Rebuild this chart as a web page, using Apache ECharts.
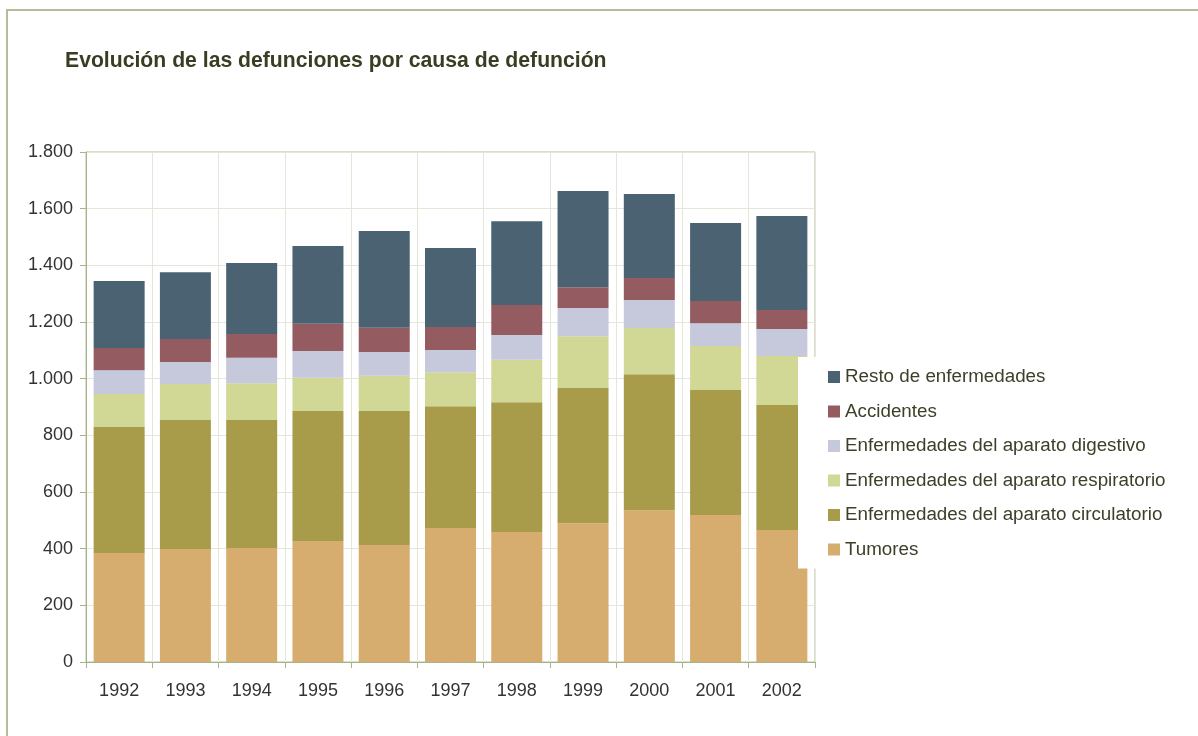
<!DOCTYPE html>
<html><head><meta charset="utf-8">
<script src="https://cdn.jsdelivr.net/npm/echarts@6/dist/echarts.min.js"></script>
<style>
html,body{margin:0;padding:0;background:#fff;}
#frame{position:absolute;left:6px;top:9px;width:1300px;height:900px;border:2px solid #b7bb9c;box-sizing:border-box;}
#c{position:absolute;left:0;top:0;width:1198px;height:736px;}
</style></head>
<body>
<div id="frame"></div>
<div id="c"></div>
<script>
const years = ['1992','1993','1994','1995','1996','1997','1998','1999','2000','2001','2002'];
const tumores      = [385, 399, 402, 427, 413, 473, 459, 490, 536, 519, 466];
const circulatorio = [444, 455, 452, 459, 473, 430, 458, 477, 480, 441, 441];
const respiratorio = [117, 127, 130, 117, 124, 120, 150, 183, 163, 155, 173];
const digestivo    = [ 84,  78,  90,  95,  84,  78,  87,  99,  99,  81,  95];
const accidentes   = [ 78,  81,  84,  96,  86,  81, 106,  74,  77,  78,  67];
const resto        = [237, 236, 250, 274, 341, 279, 296, 339, 297, 275, 332];
const yTicks = [0, 200, 400, 600, 800, 1000, 1200, 1400, 1600, 1800];

const names = ['Tumores','Enfermedades del aparato circulatorio','Enfermedades del aparato respiratorio','Enfermedades del aparato digestivo','Accidentes','Resto de enfermedades'];
const values = [tumores, circulatorio, respiratorio, digestivo, accidentes, resto];
const colors = ['#d6ac6f','#a89c4a','#d1d795','#c6c8dc','#945c60','#4a6272'];

const chart = echarts.init(document.getElementById('c'));
chart.setOption({
  animation: false,
  backgroundColor: 'transparent',
  title: {
    text: 'Evolución de las defunciones por causa de defunción',
    left: 60, top: 46,
    textStyle: {fontFamily: 'Liberation Sans, Arial, sans-serif', fontWeight: 'bold', fontSize: 21.2, color: '#3b3d22'}
  },
  grid: {left: 86, right: 383, top: 152, bottom: 74, show: true, borderColor: '#b5bd99', borderWidth: 1},
  legend: {
    orient: 'vertical', left: 798, top: 357,
    padding: [10, 30, 9, 30],
    backgroundColor: '#ffffff',
    itemWidth: 12, itemHeight: 12, itemGap: 14.5,
    icon: 'rect',
    data: names.slice().reverse(),
    textStyle: {fontFamily: 'Liberation Sans, Arial, sans-serif', fontSize: 18.8, color: '#3d3f28', lineHeight: 20}
  },
  xAxis: {
    type: 'category', data: years,
    axisLine: {lineStyle: {color: '#a7b389'}},
    axisTick: {show: true, length: 6, lineStyle: {color: '#a7b389'}},
    axisLabel: {fontFamily: 'Liberation Sans, Arial, sans-serif', fontSize: 18, color: '#333', margin: 20},
    splitLine: {show: true, lineStyle: {color: '#e4e6da'}}
  },
  yAxis: {
    type: 'value', min: 0, max: 1800, interval: 200,
    axisLine: {show: true, lineStyle: {color: '#a7b389'}},
    axisTick: {show: true, length: 6, lineStyle: {color: '#a7b389'}},
    axisLabel: {fontFamily: 'Liberation Sans, Arial, sans-serif', fontSize: 18, color: '#333', margin: 13,
      formatter: v => yTicks.includes(v) ? String(v).replace(/\B(?=(\d{3})+(?!\d))/g, '.') : ''},
    splitLine: {show: true, lineStyle: {color: '#e4e6da'}}
  },
  series: names.map((n, i) => ({
    name: n, type: 'bar', stack: 'total', data: values[i], barWidth: 51,
    itemStyle: {color: colors[i]}
  }))
});
</script>
</body></html>
